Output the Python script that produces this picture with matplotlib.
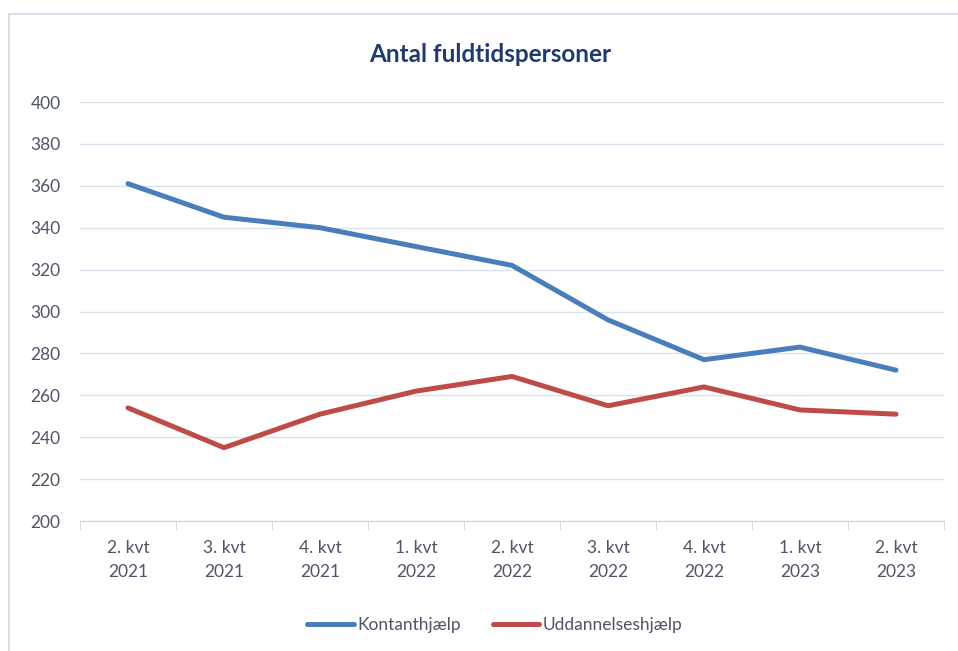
import matplotlib
matplotlib.use("Agg")

import matplotlib.pyplot as plt
from matplotlib.lines import Line2D

# Data
kvartaler = ["2. kvt\n2021", "3. kvt\n2021", "4. kvt\n2021", "1. kvt\n2022", "2. kvt\n2022",
             "3. kvt\n2022", "4. kvt\n2022", "1. kvt\n2023", "2. kvt\n2023"]
kontanthjaelp = [361, 345, 340, 331, 322, 296, 277, 283, 272]
uddannelseshjaelp = [254, 235, 251, 262, 269, 255, 264, 253, 251]

plt.rcParams['font.family'] = ['Lato', 'DejaVu Sans']

fig = plt.figure(figsize=(9.58, 6.51), dpi=100)
ax = fig.add_axes([80 / 958, 1 - 521 / 651, 864 / 958, 419 / 651])

# ramme omkring diagrammet (kun top og venstre synlige)
fig.add_artist(Line2D([9 / 958, 1], [1 - 14 / 651, 1 - 14 / 651], color="#D5DEEA", lw=1.5))
fig.add_artist(Line2D([9 / 958, 9 / 958], [0, 1 - 14 / 651], color="#D5DEEA", lw=1.5))

x = range(len(kvartaler))
ax.plot(x, kontanthjaelp, color="#4A7EBB", lw=3.6, solid_capstyle="round", label="Kontanthjælp")
ax.plot(x, uddannelseshjaelp, color="#BE4B48", lw=3.6, solid_capstyle="round", label="Uddannelseshjælp")

ax.set_xlim(-0.5, len(kvartaler) - 0.5)
ax.set_ylim(200, 400)
ax.set_yticks(range(200, 401, 20))
ax.set_xticks(list(x))
ax.set_xticklabels(kvartaler, linespacing=1.6)
ax.set_xticks([i - 0.5 for i in range(len(kvartaler) + 1)], minor=True)

ax.grid(axis="y", color="#D9E1EC", lw=1)
ax.set_axisbelow(True)
for s in ["top", "right", "left"]:
    ax.spines[s].set_visible(False)
ax.spines["bottom"].set_color("#C9D3E0")

ax.tick_params(axis="y", length=0, pad=14, labelsize=12.5, labelcolor="#4F5566")
ax.tick_params(axis="x", which="major", length=0, pad=14, labelsize=12.5, labelcolor="#4F5566")
ax.tick_params(axis="x", which="minor", length=6, color="#C9D3E0")

fig.text(490 / 958, 1 - 55 / 651, "Antal fuldtidspersoner", ha="center", va="center",
         fontsize=17.5, fontweight="bold", color="#1F3B6E")

fig.legend(loc="center", bbox_to_anchor=(495 / 958, 1 - 625 / 651), ncol=2, frameon=False,
           fontsize=12.5, labelcolor="#4F5566", handlelength=2.7, handletextpad=0.2, columnspacing=1.8)

fig.savefig("out.png", dpi=100)
